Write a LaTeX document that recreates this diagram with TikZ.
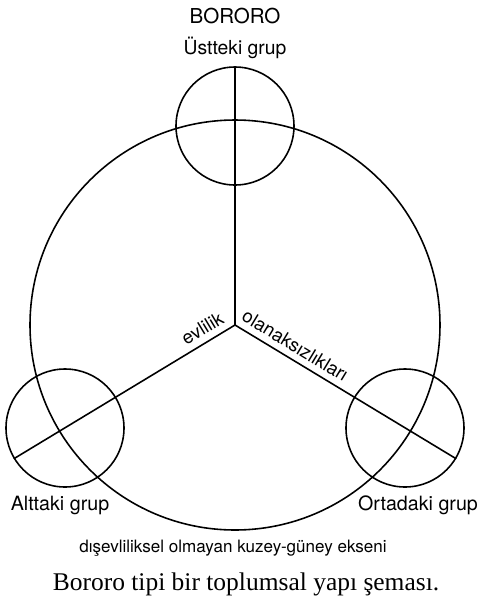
\documentclass[tikz,border=0pt]{standalone}
\usepackage{fontspec}
\setmainfont{TeX Gyre Heros}
\newfontfamily\capfont{Liberation Serif}
\usetikzlibrary{positioning}

\begin{document}
\begin{tikzpicture}[x=0.02cm, y=-0.02cm,
  line/.style={line width=0.9pt},
  group/.style={draw, circle, line width=0.9pt, minimum size=118*0.02cm, inner sep=0pt},
  label/.style={font=\fontsize{11.2}{13}\selectfont, inner sep=1pt},
  spoke/.style={font=\fontsize{10.6}{12}\selectfont, inner sep=1pt}
]
\useasboundingbox (0,0) rectangle (481,600);
% centre and outer ring
\coordinate (O) at (235,325);
\draw[line] (O) circle[radius=205];
% the three groups
\node[group] (upper) at (235,126) {};
\node[group] (lower) at (65,428) {};
\node[group] (middle) at (405,428) {};
\draw[line] (O) -- (upper.north);
\draw[line] (lower.211) -- (O) node[pos=0.885, sloped, above=2.5pt, spoke] {evlilik};
\draw[line] (O) -- (middle.-31) node[pos=0.24, sloped, above=2.5pt, spoke] {olanaksızlıkları};
% texts
\node[label, font=\fontsize{11.7}{14}\selectfont] (title) at (235,16) {BORORO};
\node[label, font=\fontsize{11}{13}\selectfont] (upname) at (235,48) {Üstteki grup};
\node[label] (lowname) at (60,505) {Alttaki grup};
\node[label] (midname) at (418,505) {Ortadaki grup};
\node[font=\fontsize{9.7}{11}\selectfont] (axis) at (233,548) {dışevliliksel olmayan kuzey-güney ekseni};
\node[font=\capfont\fontsize{14.5}{16}\selectfont] (caption) at (246,584) {Bororo tipi bir toplumsal yapı şeması.};
\end{tikzpicture}
\end{document}
